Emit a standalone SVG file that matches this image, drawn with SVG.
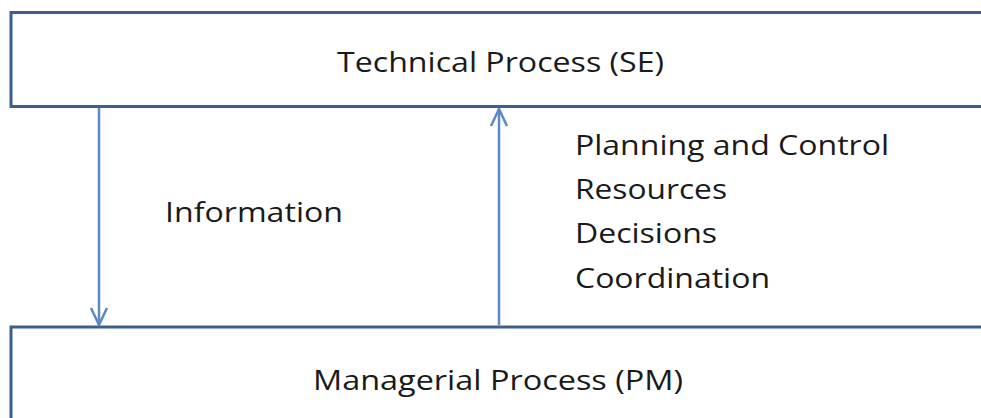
<svg xmlns="http://www.w3.org/2000/svg" width="981" height="418" viewBox="0 0 981 418">
<defs>
<style>
.box{fill:#ffffff;stroke:#3b5f8f;stroke-width:3}
.lbl{font-family:"Open Sans","Liberation Sans",sans-serif;font-size:28px;fill:#1a1a1a}
.conn{stroke:#5b89c4;stroke-width:2.5;fill:none}
</style>
<marker id="ah" viewBox="0 0 20 20" refX="19" refY="10" markerWidth="20" markerHeight="20" markerUnits="userSpaceOnUse" orient="auto">
<path d="M2,2 L19,10 L2,18" fill="none" stroke="#5b89c4" stroke-width="2.5"/>
</marker>
</defs>
<rect width="981" height="418" fill="#ffffff"/>
<g id="technical">
<rect class="box" x="11" y="12.5" width="990" height="94"/>
<text class="lbl" x="337" y="72" textLength="327" lengthAdjust="spacingAndGlyphs">Technical Process (SE)</text>
</g>
<g id="managerial">
<rect class="box" x="11" y="327" width="990" height="110"/>
<text class="lbl" x="313" y="390" textLength="370" lengthAdjust="spacingAndGlyphs">Managerial Process (PM)</text>
</g>
<g id="connectors">
<line class="conn" x1="99" y1="108" x2="99" y2="325" marker-end="url(#ah)"/>
<line class="conn" x1="499" y1="325" x2="499" y2="109" marker-end="url(#ah)"/>
</g>
<g id="labels">
<text class="lbl" x="165" y="222" textLength="178" lengthAdjust="spacingAndGlyphs">Information</text>
<text class="lbl" x="575" y="155" textLength="314" lengthAdjust="spacingAndGlyphs">Planning and Control</text>
<text class="lbl" x="575" y="199" textLength="152" lengthAdjust="spacingAndGlyphs">Resources</text>
<text class="lbl" x="575" y="243" textLength="142" lengthAdjust="spacingAndGlyphs">Decisions</text>
<text class="lbl" x="575" y="288" textLength="195" lengthAdjust="spacingAndGlyphs">Coordination</text>
</g>
</svg>
